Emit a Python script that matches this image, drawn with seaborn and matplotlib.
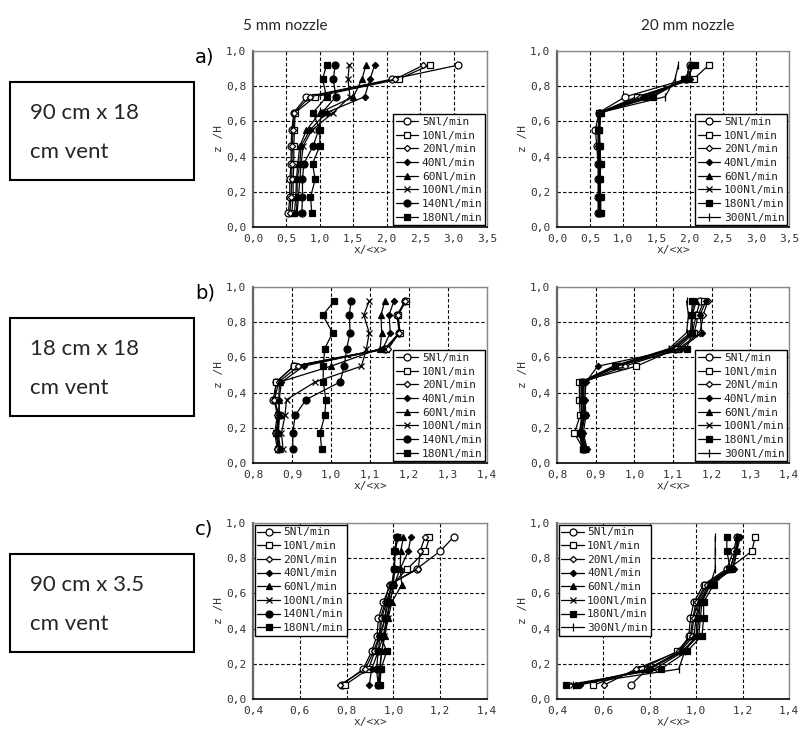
import numpy as np
import pandas as pd
import matplotlib
matplotlib.use("Agg")
import matplotlib.pyplot as plt
import matplotlib.patches as mpatches
from matplotlib.ticker import FuncFormatter, MultipleLocator
import seaborn as sns

sns.set_theme(style="white")
plt.rcParams['font.family'] = ['DejaVu Sans']

# ---------------- data ----------------
z_levels = [0.08, 0.17, 0.27, 0.36, 0.46, 0.55, 0.65, 0.74, 0.84, 0.92]

flows_5mm = ["5Nl/min", "10Nl/min", "20Nl/min", "40Nl/min", "60Nl/min",
             "100Nl/min", "140Nl/min", "180Nl/min"]
flows_20mm = ["5Nl/min", "10Nl/min", "20Nl/min", "40Nl/min", "60Nl/min",
              "100Nl/min", "180Nl/min", "300Nl/min"]

# a) 90 cm x 18 cm vent, 5 mm nozzle
a5_5 = [0.53, 0.55, 0.55, 0.57, 0.57, 0.58, 0.61, 0.80, 2.08, 3.07]
a5_10 = [0.58, 0.60, 0.60, 0.61, 0.61, 0.62, 0.63, 0.93, 2.18, 2.64]
a5_20 = [0.55, 0.57, 0.58, 0.58, 0.59, 0.60, 0.62, 0.85, 2.13, 2.55]
a5_40 = [0.65, 0.66, 0.66, 0.70, 0.72, 0.85, 1.10, 1.67, 1.75, 1.82]
a5_60 = [0.62, 0.64, 0.65, 0.67, 0.70, 0.80, 1.00, 1.50, 1.63, 1.69]
a5_100 = [0.66, 0.68, 0.70, 0.72, 0.75, 0.88, 1.20, 1.45, 1.42, 1.44]
a5_140 = [0.73, 0.74, 0.74, 0.76, 0.90, 0.98, 1.03, 1.24, 1.20, 1.23]
a5_180 = [0.88, 0.86, 0.93, 0.89, 1.00, 1.00, 0.90, 1.10, 1.04, 1.10]

# a) 90 cm x 18 cm vent, 20 mm nozzle
a20_5 = [0.62, 0.62, 0.62, 0.62, 0.60, 0.58, 0.63, 1.03, 1.95, 2.00]
a20_10 = [0.64, 0.64, 0.63, 0.64, 0.63, 0.62, 0.64, 1.20, 2.06, 2.29]
a20_20 = [0.63, 0.63, 0.63, 0.63, 0.62, 0.62, 0.64, 1.25, 1.98, 2.05]
a20_40 = [0.64, 0.63, 0.64, 0.64, 0.63, 0.63, 0.65, 1.30, 2.00, 2.02]
a20_60 = [0.65, 0.64, 0.64, 0.65, 0.64, 0.63, 0.65, 1.35, 1.95, 2.00]
a20_100 = [0.65, 0.65, 0.65, 0.65, 0.64, 0.64, 0.66, 1.40, 1.97, 2.05]
a20_180 = [0.66, 0.66, 0.65, 0.66, 0.65, 0.64, 0.66, 1.45, 1.92, 2.08]
a20_300 = [0.65, 0.65, 0.64, 0.65, 0.64, 0.64, 0.65, 1.63, 1.78, 1.83]

# b) 18 cm x 18 cm vent, 5 mm nozzle
b5_5 = [0.865, 0.861, 0.868, 0.852, 0.860, 0.904, 1.138, 1.175, 1.169, 1.190]
b5_10 = [0.865, 0.859, 0.865, 0.856, 0.859, 0.905, 1.142, 1.177, 1.172, 1.192]
b5_20 = [0.862, 0.856, 0.862, 0.855, 0.866, 0.916, 1.147, 1.175, 1.172, 1.190]
b5_40 = [0.868, 0.862, 0.866, 0.867, 0.873, 0.930, 1.133, 1.152, 1.149, 1.161]
b5_60 = [0.870, 0.865, 0.868, 0.866, 0.868, 1.000, 1.126, 1.130, 1.128, 1.138]
b5_100 = [0.877, 0.873, 0.882, 0.886, 0.959, 1.078, 1.091, 1.098, 1.084, 1.098]
b5_140 = [0.902, 0.902, 0.908, 0.936, 1.023, 1.034, 1.040, 1.049, 1.047, 1.051]
b5_180 = [0.976, 0.972, 0.984, 0.987, 0.980, 0.980, 0.984, 1.004, 0.979, 1.008]

# b) 18 cm x 18 cm vent, 20 mm nozzle
b20_5 = [0.870, 0.860, 0.872, 0.868, 0.868, 0.960, 1.105, 1.150, 1.160, 1.170]
b20_10 = [0.868, 0.845, 0.860, 0.858, 0.858, 1.005, 1.110, 1.155, 1.165, 1.180]
b20_20 = [0.875, 0.865, 0.868, 0.870, 0.870, 0.975, 1.115, 1.170, 1.178, 1.190]
b20_40 = [0.878, 0.868, 0.875, 0.872, 0.875, 0.905, 1.120, 1.175, 1.170, 1.185]
b20_60 = [0.872, 0.862, 0.870, 0.866, 0.865, 0.950, 1.100, 1.150, 1.150, 1.160]
b20_100 = [0.874, 0.864, 0.872, 0.868, 0.867, 0.955, 1.095, 1.145, 1.148, 1.155]
b20_180 = [0.868, 0.860, 0.866, 0.864, 0.864, 0.950, 1.135, 1.150, 1.148, 1.150]
b20_300 = [0.865, 0.858, 0.864, 0.862, 0.862, 0.945, 1.090, 1.135, 1.140, 1.135]

# c) 90 cm x 3.5 cm vent, 5 mm nozzle
c5_5 = [0.779, 0.871, 0.907, 0.930, 0.936, 0.957, 0.986, 1.100, 1.200, 1.257]
c5_10 = [0.793, 0.893, 0.921, 0.943, 0.950, 0.971, 0.993, 1.060, 1.137, 1.154]
c5_20 = [0.771, 0.880, 0.915, 0.940, 0.945, 0.965, 0.982, 1.107, 1.114, 1.135]
c5_40 = [0.897, 0.907, 0.935, 0.957, 0.971, 0.985, 1.003, 1.029, 1.064, 1.074]
c5_60 = [0.940, 0.943, 0.950, 0.964, 0.978, 0.993, 1.036, 1.029, 1.031, 1.043]
c5_100 = [0.935, 0.940, 0.950, 0.960, 0.975, 0.985, 1.000, 1.003, 1.007, 1.021]
c5_140 = [0.935, 0.928, 0.935, 0.943, 0.964, 0.978, 0.993, 1.003, 1.007, 1.014]
c5_180 = [0.943, 0.947, 0.971, 0.946, 0.964, 0.971, 0.997, 1.007, 1.003, 1.017]

# c) 90 cm x 3.5 cm vent, 20 mm nozzle
c20_5 = [0.718, 0.790, 0.932, 0.968, 0.975, 0.990, 1.032, 1.132, 1.161, 1.175]
c20_10 = [0.557, 0.761, 0.918, 0.975, 0.985, 1.000, 1.040, 1.140, 1.240, 1.254]
c20_20 = [0.604, 0.740, 0.925, 0.980, 0.990, 1.004, 1.047, 1.145, 1.170, 1.182]
c20_40 = [0.500, 0.800, 0.940, 1.004, 1.011, 1.018, 1.061, 1.161, 1.175, 1.190]
c20_60 = [0.483, 0.790, 0.930, 0.990, 1.000, 1.011, 1.054, 1.147, 1.170, 1.175]
c20_100 = [0.470, 0.820, 0.945, 1.011, 1.018, 1.025, 1.061, 1.155, 1.175, 1.182]
c20_180 = [0.440, 0.847, 0.960, 1.025, 1.032, 1.032, 1.075, 1.147, 1.132, 1.132]
c20_300 = [0.470, 0.925, 0.950, 1.000, 1.004, 1.018, 1.061, 1.082, 1.082, 1.082]

col_titles = ["5 mm nozzle", "20 mm nozzle"]
row_titles = [("90 cm x 18", "cm vent"), ("18 cm x 18", "cm vent"), ("90 cm x 3.5", "cm vent")]
panel_letters = ["a)", "b)", "c)"]
x_limits = [(0.0, 3.5), (0.8, 1.4), (0.4, 1.4)]
x_steps = [0.5, 0.1, 0.2]

panels = [
    [(flows_5mm, [a5_5, a5_10, a5_20, a5_40, a5_60, a5_100, a5_140, a5_180]),
     (flows_20mm, [a20_5, a20_10, a20_20, a20_40, a20_60, a20_100, a20_180, a20_300])],
    [(flows_5mm, [b5_5, b5_10, b5_20, b5_40, b5_60, b5_100, b5_140, b5_180]),
     (flows_20mm, [b20_5, b20_10, b20_20, b20_40, b20_60, b20_100, b20_180, b20_300])],
    [(flows_5mm, [c5_5, c5_10, c5_20, c5_40, c5_60, c5_100, c5_140, c5_180]),
     (flows_20mm, [c20_5, c20_10, c20_20, c20_40, c20_60, c20_100, c20_180, c20_300])],
]

# marker styles per flow rate: (marker, size, filled)
marker_style = {
    "5Nl/min": ("o", 5, False),
    "10Nl/min": ("s", 5, False),
    "20Nl/min": ("D", 3.2, False),
    "40Nl/min": ("D", 3.2, True),
    "60Nl/min": ("^", 5, True),
    "100Nl/min": ("x", 4.5, True),
    "140Nl/min": ("o", 5, True),
    "180Nl/min": ("s", 5, True),
    "300Nl/min": ("|", 6, True),
}

W, H = 801, 731
fig = plt.figure(figsize=(W / 100, H / 100), dpi=100)
fig.patch.set_facecolor("white")

col_left = [253 / W, 557 / W]
col_width = [234 / W, 232 / W]
row_top = [51, 287, 523]
ax_h = 176

mono = "DejaVu Sans Mono"
fmt = FuncFormatter(lambda v, p: f"{v:.1f}".replace(".", ","))

for r in range(3):
    for c in range(2):
        bottom = 1 - (row_top[r] + ax_h) / H
        ax = fig.add_axes([col_left[c], bottom, col_width[c], ax_h / H])
        flows, series = panels[r][c]
        for name, vals in zip(flows, series):
            df = pd.DataFrame({"x": vals, "z": z_levels})
            m, ms, filled = marker_style[name]
            sns.lineplot(data=df, x="x", y="z", ax=ax, sort=False, estimator=None,
                         color="black", linewidth=0.9, marker=m, markersize=ms,
                         markerfacecolor="black" if filled else "white",
                         markeredgecolor="black", markeredgewidth=0.9,
                         label=name)
        ax.set_xlim(*x_limits[r])
        ax.set_ylim(0, 1.0)
        ax.xaxis.set_major_locator(MultipleLocator(x_steps[r]))
        ax.yaxis.set_major_locator(MultipleLocator(0.2))
        ax.xaxis.set_major_formatter(fmt)
        ax.yaxis.set_major_formatter(fmt)
        ax.grid(True, color="black", linestyle=(0, (3, 2)), linewidth=0.8)
        ax.set_axisbelow(True)
        for side in ["top", "right"]:
            ax.spines[side].set_color("#888888")
            ax.spines[side].set_linewidth(1.0)
        ax.spines["left"].set_color("#666666")
        ax.spines["left"].set_linewidth(1.6)
        ax.spines["bottom"].set_color("black")
        ax.spines["bottom"].set_linewidth(1.2)
        ax.tick_params(axis="both", labelsize=8, colors="#333333", length=4,
                       width=1, direction="inout", pad=3)
        for lbl in ax.get_xticklabels() + ax.get_yticklabels():
            lbl.set_fontfamily(mono)
        ax.set_xlabel("x/<x>", fontsize=8, family=mono, color="#333333", labelpad=1)
        ax.set_ylabel("z /H", fontsize=8, family=mono, color="#333333", labelpad=1)

        loc = "upper left" if r == 2 else "lower right"
        leg = ax.legend(loc=loc, prop={"family": mono, "size": 8}, frameon=True,
                        fancybox=False, edgecolor="black", framealpha=1,
                        borderaxespad=0.15, borderpad=0.25, labelspacing=0.33,
                        handlelength=2.0, handletextpad=0.3)
        leg.get_frame().set_linewidth(1.0)
        for t in leg.get_texts():
            t.set_color("#222222")

        if c == 0:
            fig.text(195 / W, 1 - (row_top[r] + 6) / H, panel_letters[r], fontsize=14,
                     ha="left", va="center", color="black")

# column titles
title_font = ["Lato", "DejaVu Sans"]
fig.text(285 / W, 1 - 26 / H, col_titles[0], fontsize=11, family=title_font,
         ha="center", va="center")
fig.text(688 / W, 1 - 26 / H, col_titles[1], fontsize=11, family=title_font,
         ha="center", va="center")

# row boxes
for r in range(3):
    top = row_top[r] + 31
    rect = mpatches.Rectangle((10 / W, 1 - (top + 98) / H), 184 / W, 98 / H,
                              transform=fig.transFigure, fill=False,
                              edgecolor="black", linewidth=1.5)
    fig.patches.append(rect)
    fig.text(30 / W, 1 - (top + 31) / H, row_titles[r][0], fontsize=16,
             family=title_font, ha="left", va="center")
    fig.text(30 / W, 1 - (top + 70) / H, row_titles[r][1], fontsize=16,
             family=title_font, ha="left", va="center")

fig.savefig("out.png", dpi=100, facecolor="white")
